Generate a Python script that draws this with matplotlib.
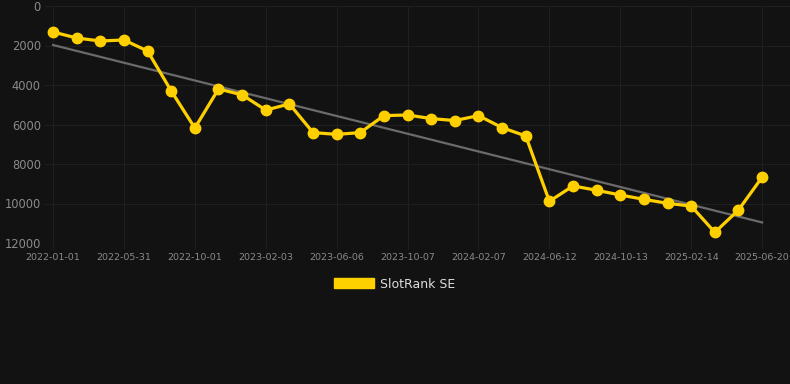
import matplotlib
matplotlib.use("Agg")
import matplotlib.pyplot as plt
import numpy as np
from matplotlib.patches import Patch

tick_labels = ["2022-01-01", "2022-05-31", "2022-10-01", "2023-02-03", "2023-06-06",
               "2023-10-07", "2024-02-07", "2024-06-12", "2024-10-13", "2025-02-14",
               "2025-06-20"]
ranks = [1316, 1620, 1772, 1720, 2280, 4300, 6180, 4200, 4500, 5270,
         4960, 6410, 6500, 6410, 5550, 5520, 5700, 5800, 5550, 6160,
         6580, 9890, 9110, 9330, 9570, 9790, 9990, 10130, 11460, 10330,
         8670]
trend_ends = [1975, 10960]
series_name = "SlotRank SE"

BG = "#121212"
YELLOW = "#FFD000"
GRID = "#1f1f1f"
TICK = "#8a8a8a"

fig = plt.figure(figsize=(7.9, 3.84), dpi=100, facecolor=BG)
ax = fig.add_axes([45/790, 1-243/384, 1-45/790, (243-6)/384])
ax.set_facecolor(BG)

x = np.arange(len(ranks))
ax.plot([x[0], x[-1]], trend_ends, color="#6b6b6b", lw=1.6, zorder=2)
ax.plot(x, ranks, color=YELLOW, lw=2.3, marker="o", markersize=7.5,
        markerfacecolor=YELLOW, markeredgecolor=YELLOW, zorder=3, clip_on=False)

ax.set_ylim(12000, 0)
ax.set_yticks(np.arange(0, 12001, 2000))
ax.set_xlim(-0.34, 31.18)
ax.set_xticks(x[::3])
ax.set_xticklabels(tick_labels)

for s in ax.spines.values():
    s.set_visible(False)
ax.grid(True, color=GRID, lw=0.8)
ax.tick_params(axis="x", colors=GRID, labelcolor=TICK, labelsize=6.8, length=4, pad=3)
ax.tick_params(axis="y", length=0, labelcolor=TICK, labelsize=8.3, pad=3)

leg = fig.legend(handles=[Patch(facecolor=YELLOW, edgecolor=YELLOW)], labels=[series_name],
                 loc="center", bbox_to_anchor=(395/790, 1-284/384), frameon=False,
                 handlelength=3.2, handleheight=0.8, handletextpad=0.5, fontsize=9)
for t in leg.get_texts():
    t.set_color("#dddddd")

fig.savefig("out.png", dpi=100, facecolor=BG)
